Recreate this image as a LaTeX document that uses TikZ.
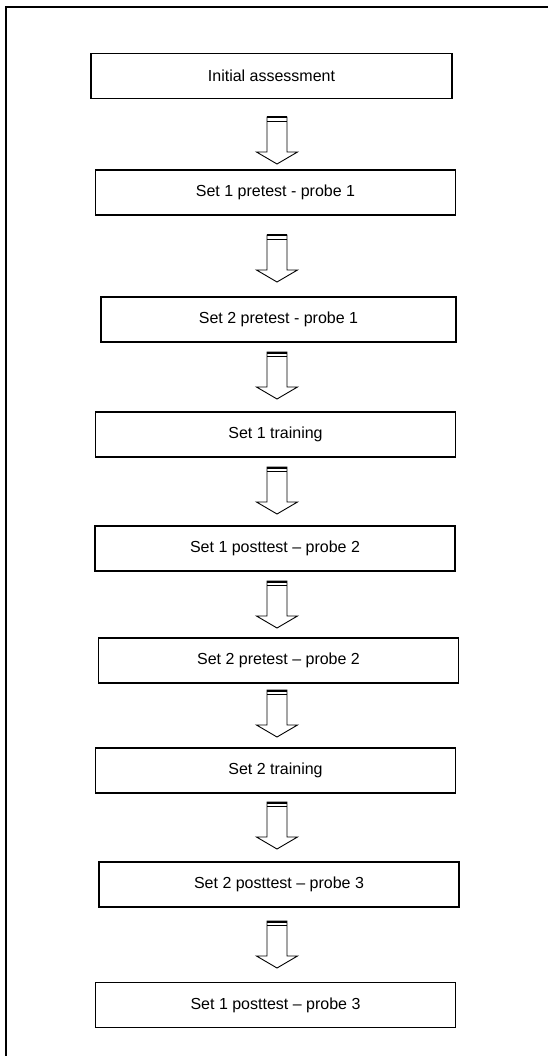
\documentclass[tikz,border=0pt]{standalone}
\usepackage{fontspec}
\setmainfont{Liberation Sans}

\begin{document}
\begin{tikzpicture}[x=1pt,y=-1pt,
  stage/.style={draw,line width=1.1pt,minimum width=360pt,minimum height=45pt,
    inner sep=0pt,font=\fontsize{16}{19}\selectfont},
  blockarrow/.pic={
    \draw[line width=0.9pt,line join=miter] (-10,0) -- (-10,35) -- (-20.5,35)
      -- (0,47) -- (20.5,35) -- (10,35) -- (10,0) -- cycle;
    \draw[line width=2pt] (-10,0.5) -- (10,0.5);
    \draw[line width=0.9pt] (-10,4.5) -- (10,4.5);
  }]
  \useasboundingbox (0,0) rectangle (547,1056);
  % outer frame, cut off at the right and the bottom
  \draw[line width=1.3pt] (6,1060) |- (552,7);
  \node[stage,minimum width=361pt] (s1) at (271.5,76) {Initial assessment};
  \node[stage] (s2) at (275.5,192.5) {Set 1 pretest - probe 1};
  \node[stage,minimum width=355pt] (s3) at (278.5,319.5) {Set 2 pretest - probe 1};
  \node[stage] (s4) at (275.5,434.5) {Set 1 training};
  \node[stage] (s5) at (275,548.5) {Set 1 posttest -- probe 2};
  \node[stage] (s6) at (278.5,660.5) {Set 2 pretest -- probe 2};
  \node[stage] (s7) at (275.5,770.5) {Set 2 training};
  \node[stage] (s8) at (279,884.5) {Set 2 posttest -- probe 3};
  \node[stage] (s9) at (275.5,1005) {Set 1 posttest -- probe 3};
  % block arrows between the stages
  \foreach \top in {117,235,352,467,581,690,802,921}
    \pic at (277,\top) {blockarrow};
\end{tikzpicture}
\end{document}
